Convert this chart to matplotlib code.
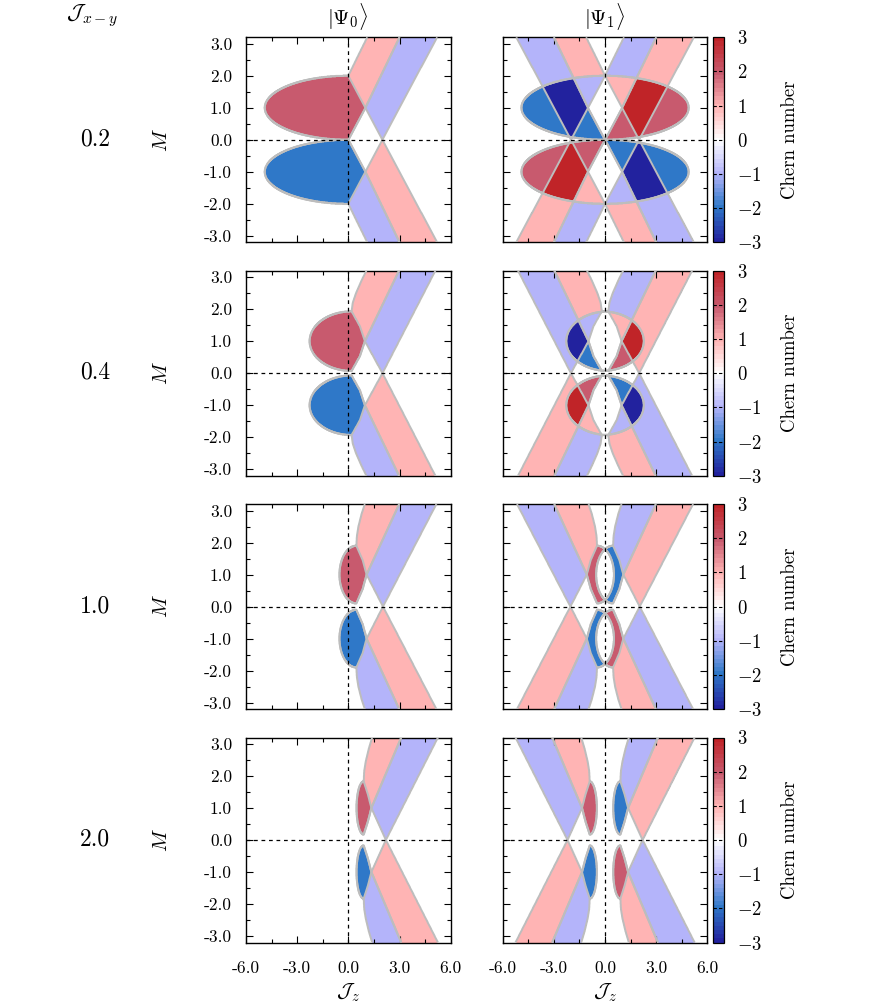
import numpy as np
import matplotlib
matplotlib.use('Agg')
import matplotlib.pyplot as plt
from matplotlib.colors import LinearSegmentedColormap
from matplotlib.ticker import MultipleLocator

plt.rcParams['font.family'] = 'serif'
plt.rcParams['font.serif'] = ['cmr10', 'DejaVu Serif']
plt.rcParams['mathtext.fontset'] = 'cm'
plt.rcParams['axes.unicode_minus'] = False

# rows of the figure (J_{x-y} values)
J_xy = [0.2, 0.4, 1.0, 2.0]
row_labels = ['0.2', '0.4', '1.0', '2.0']

# geometry of the |Psi_0> phase regions, upper half (M > 0)
lens_center = [0.0, 0.19, 0.47, 0.90]      # Jz of the lens top/bottom corners
lens_halfwidth = [4.9, 2.46, 0.99, 0.42]   # distance of the left tip from the centre
lens_halfheight = [1.0, 0.93, 0.90, 0.83]  # vertical half size around M = 1
mid_x = [1.0, 0.97, 1.07, 1.35]            # right vertex of the lens at M = 1
quarter_x = [0.5, 0.68, 0.84, 1.15]        # right edge of lens at M = 1 +- h/2
cross_x = [2.0, 2.0, 2.03, 2.2]            # where the bands cross M = 0

# left edge of the inner band above the lens corner
edge1_M = [[2.0, 2.6, 3.3],
           [1.93, 2.2, 2.5, 2.9, 3.3],
           [1.9, 2.2, 2.5, 2.9, 3.3],
           [1.83, 2.15, 2.45, 2.85, 3.3]]
edge1_Jz = [[0.0, 0.55, 1.2],
            [0.19, 0.26, 0.45, 0.78, 1.15],
            [0.47, 0.50, 0.59, 0.78, 1.03],
            [0.90, 0.93, 1.02, 1.20, 1.45]]
split_top = [3.0, 2.97, 2.98, 3.1]   # inner/outer band interface at M = 3.2
outer_top = [5.2, 5.1, 5.16, 5.25]   # outer band right edge at M = 3.2

chern_ticks = [-3, -2, -1, 0, 1, 2, 3]
chern_colors = ['#22229e', '#2f78c8', '#b4b4fa', '#ffffff', '#ffb4b4', '#c85a6e', '#c02428']

cmap = LinearSegmentedColormap.from_list('chern', chern_colors, N=49)

jz = np.linspace(-6, 6, 1200)
mm = np.linspace(-3.2, 3.2, 640)
JZ, MM = np.meshgrid(jz, mm)


def psi0(JZ, MM, r):
    m = np.abs(MM)
    c, a, b = lens_center[r], lens_halfwidth[r], lens_halfheight[r]
    xm, xx = mid_x[r], cross_x[r]
    val = np.zeros_like(JZ)

    t = (m - 1) / b
    inlens = np.abs(t) < 1
    left = c - a * np.sqrt(np.clip(1 - t ** 2, 0, None))
    right = np.interp(m, [1 - b, 1 - b / 2, 1, 1 + b / 2, 1 + b],
                      [c, quarter_x[r], xm, quarter_x[r], c])
    val[inlens & (JZ > left) & (JZ < right)] = 2

    e1 = np.interp(m, edge1_M[r], edge1_Jz[r])
    inner_left = np.where(m <= 1 + b, right, e1)
    split = np.interp(m, [1, 3.2], [xm, split_top[r]])
    val[(m >= 1) & (JZ > inner_left) & (JZ < split)] = 1

    low = np.interp(m, [0, 1], [xx, xm])
    outer_left = np.where(m >= 1, split, low)
    outer_right = np.interp(m, [0, 3.2], [xx, outer_top[r]])
    val[(JZ > outer_left) & (JZ < outer_right)] = -1
    return val * np.sign(MM)


fig = plt.figure(figsize=(8.96, 10.06), dpi=100)
W, H = 896.0, 1006.0
ax_w, ax_h = 204.7 / W, 205 / H


def style(ax, bottom, left):
    ax.set_xlim(-6, 6)
    ax.set_ylim(-3.2, 3.2)
    ax.xaxis.set_major_locator(MultipleLocator(3))
    ax.xaxis.set_minor_locator(MultipleLocator(1.5))
    ax.yaxis.set_major_locator(MultipleLocator(1))
    ax.yaxis.set_minor_locator(MultipleLocator(0.5))
    ax.tick_params(which='both', direction='in', top=True, right=True, labelsize=12.5)
    ax.tick_params(which='major', length=5, width=0.8)
    ax.tick_params(which='minor', length=3, width=0.8)
    ax.tick_params(axis='x', pad=13)
    ax.tick_params(axis='y', pad=10)
    if bottom:
        ax.set_xticks([-6, -3, 0, 3, 6])
        ax.set_xticklabels(['-6.0', '-3.0', '0.0', '3.0', '6.0'])
        ax.set_xlabel(r'$\mathcal{J}_z$', fontsize=15, labelpad=4)
    else:
        ax.set_xticklabels([])
    if left:
        ax.set_yticks([-3, -2, -1, 0, 1, 2, 3])
        ax.set_yticklabels(['-3.0', '-2.0', '-1.0', '0.0', '1.0', '2.0', '3.0'])
    else:
        ax.set_yticklabels([])
    ax.axvline(0, color='black', lw=0.9, ls=(0, (3, 3)), zorder=4)
    ax.axhline(0, color='black', lw=0.9, ls=(0, (3, 3)), zorder=4)
    for s in ax.spines.values():
        s.set_linewidth(1.0)


levels = [-2.5, -1.5, -0.5, 0.5, 1.5, 2.5]
for r in range(4):
    top = 37.3 + 233.4 * r
    y0 = 1 - (top + 205) / H
    ground = psi0(JZ, MM, r)
    excited = psi0(-JZ, MM, r) - ground
    for col, field in enumerate([ground, excited]):
        x0 = (246 if col == 0 else 502.7) / W
        ax = fig.add_axes([x0, y0, ax_w, ax_h])
        im = ax.imshow(field, extent=[-6, 6, -3.2, 3.2], origin='lower', cmap=cmap,
                       vmin=-3, vmax=3, interpolation='nearest', aspect='auto')
        ax.contour(jz, mm, field, levels=levels, colors='#bdbdbd',
                   linewidths=1.4, linestyles='solid', zorder=3)
        style(ax, bottom=(r == 3), left=(col == 0))
        if col == 0:
            ax.set_ylabel(r'$M$', fontsize=15, labelpad=24)
        else:
            cax = fig.add_axes([712.7 / W, y0, 11.3 / W, ax_h])
            cb = fig.colorbar(im, cax=cax, ticks=chern_ticks)
            cb.ax.set_yticklabels(['$%d$' % t for t in chern_ticks], fontsize=13.5)
            cb.ax.tick_params(length=0, pad=9)
            cb.outline.set_linewidth(0.9)
            for t in chern_ticks[1:-1]:
                cb.ax.axhline(t, color='black', lw=0.8, ls=(0, (3, 2)))
            cb.set_label('Chern number', fontsize=13.5, labelpad=14)
    fig.text(95 / W, 1 - (top + 102) / H, row_labels[r], fontsize=17,
             ha='center', va='center')

fig.text(92 / W, 1 - 16 / H, r'$\mathcal{J}_{x-y}$', fontsize=16, ha='center', va='center')
fig.text(348 / W, 1 - 16 / H, r'$|\Psi_0\rangle$', fontsize=15, ha='center', va='center')
fig.text(605 / W, 1 - 16 / H, r'$|\Psi_1\rangle$', fontsize=15, ha='center', va='center')

fig.savefig('out.png', dpi=100)
